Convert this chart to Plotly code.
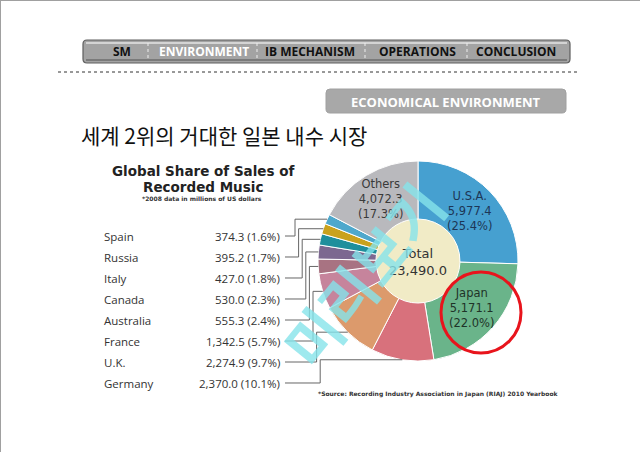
import math
import plotly.graph_objects as go

W, H = 640, 452

# pie data, clockwise from 12 o'clock
countries = ["U.S.A.", "Japan", "Germany", "U.K.", "France", "Australia",
             "Canada", "Italy", "Russia", "Spain", "Others"]
sales = [5977.4, 5171.1, 2370.0, 2274.9, 1342.5, 555.3,
         530.0, 427.0, 395.2, 374.3, 4072.3]
colors = ["#46a0d0", "#6ab48a", "#d8717c", "#dc9a6c", "#c6849c", "#a87382",
          "#7c6890", "#1f8f9c", "#c9a21d", "#4ea8cc", "#b9b9bd"]
label_colors = {"U.S.A.": "#1d3656", "Japan": "#1f3328", "Others": "#3a3a3a"}

# left hand list (top to bottom)
list_names = ["Spain", "Russia", "Italy", "Canada", "Australia", "France", "U.K.", "Germany"]

nav_items = ["SM", "ENVIRONMENT", "IB MECHANISM", "OPERATIONS", "CONCLUSION"]

total = sum(sales)
pct = [v / total * 100 for v in sales]


def px(x):
    return x / W


def py(y):
    return 1 - y / H


def note(x, y, text, size, color, family="DejaVu Sans", xanchor="center", **kw):
    return dict(x=px(x), y=py(y), xref="paper", yref="paper", text=text, showarrow=False,
                xanchor=xanchor, yanchor="middle", font=dict(family=family, size=size, color=color), **kw)


cx, cy, r = 418, 261, 100

fig = go.Figure()
fig.add_trace(go.Pie(
    labels=countries,
    values=sales,
    textinfo="none",
    hoverinfo="label+value+percent",
    sort=False,
    direction="clockwise",
    rotation=0,
    hole=0.42,
    marker=dict(colors=colors, line=dict(color="white", width=1)),
    domain=dict(x=[px(cx - r), px(cx + r)], y=[py(cy + r), py(cy - r)]),
    title=dict(text="Total<br>23,490.0", position="middle center",
               font=dict(family="DejaVu Sans", size=13, color="#333333")),
    showlegend=False,
))

shapes = []
annotations = []

# slide border
shapes.append(dict(type="line", xref="paper", yref="paper", x0=0, x1=1, y0=py(0.5), y1=py(0.5),
                   line=dict(color="#a0a0a0", width=1)))
shapes.append(dict(type="line", xref="paper", yref="paper", x0=px(0.5), x1=px(0.5), y0=0, y1=1,
                   line=dict(color="#a0a0a0", width=1)))


def rrect(x0, y0, x1, y1, rad):
    return ("M %f,%f L %f,%f Q %f,%f %f,%f L %f,%f Q %f,%f %f,%f L %f,%f Q %f,%f %f,%f L %f,%f Q %f,%f %f,%f Z" % (
        px(x0 + rad), py(y0), px(x1 - rad), py(y0), px(x1), py(y0), px(x1), py(y0 + rad),
        px(x1), py(y1 - rad), px(x1), py(y1), px(x1 - rad), py(y1),
        px(x0 + rad), py(y1), px(x0), py(y1), px(x0), py(y1 - rad),
        px(x0), py(y0 + rad), px(x0), py(y0), px(x0 + rad), py(y0)))


# nav bar
shapes.append(dict(type="path", xref="paper", yref="paper", path=rrect(83, 40, 570, 63, 4),
                   fillcolor="#a3a3a3", line=dict(color="#5e5e5e", width=1.2)))
shapes.append(dict(type="rect", xref="paper", yref="paper", x0=px(86), x1=px(567), y0=py(44), y1=py(42),
                   fillcolor="#d4d4d4", line=dict(width=0)))
shapes.append(dict(type="rect", xref="paper", yref="paper", x0=px(86), x1=px(567), y0=py(61), y1=py(59),
                   fillcolor="#7a7a7a", line=dict(width=0)))
nav_x = [122, 204, 310, 417, 516]
for i, item in enumerate(nav_items):
    annotations.append(note(nav_x[i], 51, "<b>%s</b>" % item, 12,
                            "white" if item == "ENVIRONMENT" else "#111111", family="Open Sans"))
for sx in [148, 257, 365, 467]:
    shapes.append(dict(type="line", xref="paper", yref="paper", x0=px(sx), x1=px(sx), y0=py(43), y1=py(60),
                       line=dict(color="#eeeeee", width=1, dash="dot")))

# dotted rule
shapes.append(dict(type="line", xref="paper", yref="paper", x0=px(58), x1=px(580), y0=py(72), y1=py(72),
                   line=dict(color="#333333", width=1, dash="dot")))

# section button
shapes.append(dict(type="path", xref="paper", yref="paper", path=rrect(326, 89, 566, 113, 4),
                   fillcolor="#a8a8a8", line=dict(color="#a0a0a0", width=1)))
annotations.append(note(446, 101.5, "<b>ECONOMICAL ENVIRONMENT</b>", 13, "white", family="Open Sans"))

# korean heading
annotations.append(note(79, 135, "세계 2위의 거대한 일본 내수 시장", 21, "#111111",
                        family="Noto Sans CJK KR", xanchor="left"))

# chart titles / source
annotations.append(note(203, 171, "<b>Global Share of Sales of</b>", 13.5, "#222222"))
annotations.append(note(203, 187, "<b>Recorded Music</b>", 13.5, "#222222"))
annotations.append(note(202, 199, "<b>*2008 data in millions of US dollars</b>", 6, "#333333"))
annotations.append(note(438, 394, "<b>*Source: Recording Industry Association in Japan (RIAJ) 2010 Yearbook</b>",
                        6, "#333333"))

# slice geometry (mid angle of each slice)
mid = []
acc = 0
for p in pct:
    mid.append(2 * math.pi * (acc + p / 2) / 100)
    acc += p

# labels inside the big slices
for k, name in enumerate(countries):
    if name in label_colors:
        lx = cx + 0.72 * r * math.sin(mid[k])
        ly = cy - 0.72 * r * math.cos(mid[k])
        annotations.append(note(lx, ly, "%s<br>%s<br>(%.1f%%)" % (name, format(sales[k], ",.1f"), pct[k]),
                                11.5, label_colors[name], align="center"))

# left list with leader lines
for i, name in enumerate(list_names):
    k = countries.index(name)
    row_y = 236 + 21 * i
    annotations.append(note(102, row_y, name, 11.5, "#333333", family="Open Sans", xanchor="left"))
    annotations.append(note(282, row_y, "%s (%.1f%%)" % (format(sales[k], ",.1f"), pct[k]), 11.5, "#333333",
                            family="Open Sans", xanchor="right"))
    ex = cx + r * math.sin(mid[k])
    ey = cy - r * math.cos(mid[k])
    xv = 295 + 3.6 * i
    shapes.append(dict(type="path", xref="paper", yref="paper",
                       path="M %f,%f L %f,%f L %f,%f L %f,%f" % (px(285), py(row_y), px(xv), py(row_y),
                                                                px(xv), py(ey), px(ex), py(ey)),
                       line=dict(color="#666666", width=1)))

# beige centre disc behind the hole
shapes.append(dict(type="circle", xref="paper", yref="paper", layer="below",
                   x0=px(cx - 43), x1=px(cx + 43), y0=py(cy + 43), y1=py(cy - 43),
                   fillcolor="#f1ebc6", line=dict(width=0)))

# red highlight circle around Japan
shapes.append(dict(type="circle", xref="paper", yref="paper",
                   x0=px(441), x1=px(521), y0=py(353), y1=py(272),
                   line=dict(color="#e8141c", width=3)))

# preview watermark
annotations.append(note(362, 275, "<b>미리보기</b>", 58, "#86e4eb", family="Noto Sans CJK KR",
                        textangle=-51, opacity=0.8))

fig.update_layout(
    width=W, height=H,
    margin=dict(l=0, r=0, t=0, b=0),
    paper_bgcolor="white",
    plot_bgcolor="white",
    shapes=shapes,
    annotations=annotations,
)

fig.write_html("out.html", config={"displayModeBar": False},
               post_script="document.body.style.margin='0';")
